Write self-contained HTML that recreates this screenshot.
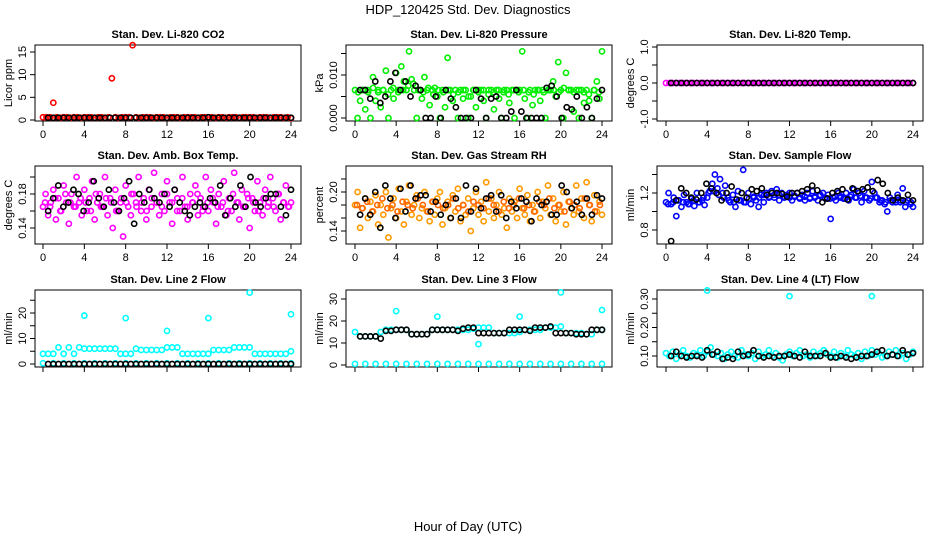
<!DOCTYPE html>
<html><head><meta charset="utf-8"><style>
html,body{margin:0;padding:0;background:#fff;}
svg text{font-family:"Liberation Sans",Arial,sans-serif;}
</style></head><body>
<svg id="chart" width="936" height="540" viewBox="0 0 936 540" xmlns="http://www.w3.org/2000/svg">
<rect width="936" height="540" fill="#fff"/>
<text x="468" y="14" font-size="13" text-anchor="middle">HDP_120425  Std. Dev. Diagnostics</text>
<text x="468" y="531" font-size="13" text-anchor="middle">Hour of Day (UTC)</text>
</svg>
<script>
// ---------- data ----------
const hourTicks = [0,4,8,12,16,20,24];
// CO2
const co2Red = [0.6,0.6,0.6,3.8,0.6,0.5,0.6,0.6,0.5,0.6,0.6,0.5,0.6,0.6,0.6,0.5,0.6,0.6,0.5,0.6,9.2,0.6,0.5,0.6,0.6,0.6,16.5,0.6,0.5,0.6,0.6,0.6,0.5,0.6,0.6,0.6,0.5,0.6,0.6,0.6,0.5,0.6,0.6,0.6,0.6,0.5,0.6,0.6,0.6,0.6,0.5,0.6,0.6,0.5,0.6,0.6,0.6,0.5,0.6,0.6,0.6,0.6,0.5,0.6,0.6,0.6,0.5,0.6,0.6,0.6,0.5,0.6,0.4];
const co2Black = [0.5,0.5,0.5,0.5,0.5,0.5,0.5,0.5,0.5,0.5,0.5,0.5,0.5,0.5,0.5,0.5,0.5,0.5,0.5,0.5,0.5,0.5,0.5,0.5,0.5,0.5,0.5,0.5,0.5,0.5,0.5,0.6,0.5,0.5,0.5,0.5,0.5,0.5,0.5,0.5,0.5,0.5,0.5,0.5,0.5,0.5,0.5,0.5];
// Pressure
const presGreen = [0.0065,0.0,0.004,0.0065,0.002,0.0065,0.0,0.0095,0.004,0.0065,0.0025,0.0065,0.011,0.0,0.0065,0.0045,0.0105,0.0065,0.012,0.0085,0.0065,0.0155,0.009,0.0065,0.0,0.0065,0.0045,0.0095,0.0065,0.003,0.0065,0.007,0.005,0.0,0.0065,0.0025,0.014,0.0065,0.004,0.0065,0.0,0.0065,0.0045,0.0065,0.0,0.005,0.0065,0.0025,0.0065,0.0065,0.004,0.0,0.0065,0.0065,0.002,0.0065,0.0045,0.0,0.0065,0.0065,0.0035,0.0065,0.0,0.0065,0.0065,0.0155,0.0045,0.0,0.0065,0.003,0.0065,0.0065,0.004,0.0065,0.0,0.0065,0.0065,0.0085,0.005,0.013,0.0065,0.0,0.0105,0.0065,0.0065,0.0015,0.0065,0.0,0.0065,0.0035,0.0065,0.004,0.0,0.0065,0.0085,0.0045,0.0155];
const presGreenCore = [0.006,0.0065,0.006,0.007,0.006,0.0065,0.0055,0.007,0.006,0.0065,0.0075,0.008,0.0065,0.006,0.007,0.0055,0.0065,0.006,0.0065,0.0055,0.006,0.0065,0.005,0.0065,0.006,0.0065,0.0055,0.006,0.0065,0.006,0.0055,0.0065,0.006,0.0065,0.006,0.0055,0.0065,0.006,0.0065,0.0065,0.006,0.007,0.0065,0.006,0.0065,0.006,0.0055,0.0065,0.006];
const presBlack = [0.0065,0.0065,0.0045,0.0085,0.0035,0.005,0.0085,0.0105,0.0065,0.0085,0.005,0.0075,0.0065,0.0,0.0,0.005,0.0,0.0065,0.0045,0.0025,0.0,0.0,0.0,0.0065,0.0045,0.0,0.0045,0.005,0.0,0.0,0.0015,0.0065,0.0015,0.0,0.0,0.0,0.0,0.007,0.0075,0.005,0.0,0.0025,0.002,0.005,0.0,0.0025,0.0,0.0045,0.0065];
// Li-820 temp
const tempMag = [0,0,0,0,0,0,0,0,0,0,0,0,0,0,0,0,0,0,0,0,0,0,0,0,0,0,0,0,0,0,0,0,0,0,0,0,0,0,0,0,0,0,0,0,0,0,0,0,0,0,0,0,0,0,0,0,0,0,0,0,0,0,0,0,0,0,0,0,0,0,0,0,0];
const tempBlack = [0,0,0,0,0,0,0,0,0,0,0,0,0,0,0,0,0,0,0,0,0,0,0,0,0,0,0,0,0,0,0,0,0,0,0,0,0,0,0,0,0,0,0,0,0,0,0,0];
// Amb box temp
const boxMag = [0.165,0.18,0.155,0.17,0.185,0.15,0.175,0.16,0.19,0.17,0.145,0.18,0.165,0.2,0.17,0.155,0.185,0.16,0.175,0.195,0.15,0.17,0.18,0.165,0.2,0.155,0.175,0.14,0.185,0.16,0.17,0.13,0.19,0.165,0.155,0.18,0.17,0.2,0.16,0.175,0.15,0.185,0.165,0.205,0.17,0.155,0.18,0.16,0.195,0.17,0.145,0.185,0.175,0.16,0.2,0.165,0.15,0.18,0.17,0.19,0.155,0.175,0.165,0.2,0.16,0.185,0.17,0.145,0.18,0.165,0.195,0.155,0.175,0.16,0.205,0.17,0.15,0.185,0.165,0.18,0.14,0.175,0.16,0.195,0.17,0.155,0.185,0.165,0.2,0.175,0.16,0.18,0.15,0.17,0.19,0.165,0.17];
const boxMagCore = [0.17,0.165,0.175,0.16,0.18,0.17,0.165,0.175,0.17,0.16,0.18,0.165,0.175,0.17,0.16,0.175,0.17,0.18,0.165,0.17,0.16,0.175,0.17,0.165,0.18,0.17,0.16,0.175,0.165,0.17,0.18,0.16,0.17,0.175,0.165,0.17,0.16,0.18,0.17,0.165,0.175,0.17,0.16,0.175,0.17,0.165,0.18,0.17,0.165];
const boxBlack = [0.16,0.175,0.19,0.165,0.17,0.185,0.18,0.16,0.17,0.195,0.175,0.165,0.185,0.17,0.16,0.175,0.195,0.145,0.18,0.17,0.185,0.175,0.17,0.18,0.165,0.185,0.17,0.16,0.155,0.165,0.17,0.165,0.175,0.17,0.19,0.155,0.175,0.165,0.19,0.165,0.2,0.17,0.165,0.175,0.18,0.18,0.165,0.155,0.185];
// Gas stream RH
const rhOrange = [0.18,0.2,0.145,0.175,0.19,0.16,0.185,0.17,0.195,0.15,0.18,0.165,0.2,0.13,0.175,0.19,0.16,0.205,0.17,0.15,0.185,0.21,0.165,0.18,0.195,0.16,0.175,0.2,0.17,0.155,0.185,0.165,0.19,0.2,0.15,0.175,0.185,0.16,0.195,0.17,0.205,0.155,0.18,0.165,0.19,0.14,0.175,0.2,0.165,0.185,0.155,0.215,0.17,0.19,0.16,0.18,0.2,0.165,0.175,0.145,0.19,0.17,0.185,0.16,0.205,0.175,0.165,0.195,0.155,0.18,0.17,0.2,0.16,0.185,0.175,0.21,0.165,0.19,0.155,0.18,0.17,0.2,0.15,0.185,0.175,0.165,0.21,0.17,0.19,0.16,0.215,0.18,0.155,0.195,0.17,0.185,0.165];
const rhOrangeCore = [0.18,0.175,0.185,0.17,0.18,0.19,0.175,0.18,0.17,0.185,0.18,0.175,0.19,0.18,0.17,0.185,0.18,0.175,0.18,0.19,0.175,0.18,0.17,0.185,0.18,0.175,0.19,0.18,0.17,0.185,0.175,0.18,0.19,0.175,0.18,0.17,0.185,0.18,0.19,0.175,0.18,0.17,0.185,0.18,0.175,0.19,0.18,0.17,0.18];
const rhBlack = [0.165,0.19,0.165,0.2,0.145,0.21,0.19,0.16,0.205,0.17,0.21,0.19,0.195,0.195,0.17,0.185,0.165,0.18,0.16,0.19,0.16,0.21,0.17,0.205,0.175,0.19,0.195,0.17,0.195,0.16,0.185,0.175,0.19,0.185,0.155,0.19,0.18,0.185,0.165,0.165,0.21,0.2,0.175,0.185,0.165,0.19,0.165,0.195,0.19];
// Sample flow
const flowBlue = [1.1,1.2,1.08,1.15,0.95,1.12,1.05,1.18,1.1,1.08,1.14,1.06,1.2,1.1,1.12,1.07,1.15,1.22,1.3,1.4,1.25,1.35,1.2,1.28,1.15,1.1,1.18,1.05,1.22,1.12,1.45,1.1,1.2,1.08,1.15,1.12,1.05,1.18,1.1,1.2,1.15,1.22,1.18,1.24,1.12,1.2,1.15,1.18,1.2,1.12,1.16,1.2,1.14,1.18,1.12,1.2,1.15,1.22,1.16,1.12,1.18,1.2,1.14,1.18,0.92,1.15,1.12,1.2,1.16,1.14,1.2,1.12,1.18,1.24,1.15,1.2,1.1,1.22,1.15,1.12,1.32,1.2,1.15,1.1,1.12,1.08,1.0,1.15,1.1,1.12,1.18,1.1,1.25,1.05,1.12,1.08,1.05];
const flowBlueCore = [1.08,1.1,1.12,1.1,1.08,1.12,1.1,1.15,1.2,1.22,1.18,1.15,1.12,1.1,1.12,1.1,1.14,1.16,1.15,1.18,1.16,1.15,1.18,1.16,1.15,1.17,1.15,1.16,1.14,1.15,1.17,1.15,1.14,1.16,1.15,1.14,1.16,1.15,1.17,1.15,1.14,1.15,1.12,1.1,1.12,1.1,1.12,1.1,1.1];
const flowBlack = [0.68,1.12,1.25,1.2,1.15,1.13,1.2,1.3,1.25,1.2,1.12,1.2,1.27,1.13,1.2,1.15,1.24,1.22,1.25,1.18,1.2,1.2,1.19,1.16,1.2,1.2,1.22,1.24,1.28,1.23,1.1,1.14,1.2,1.22,1.24,1.13,1.25,1.22,1.24,1.26,1.22,1.34,1.3,1.2,1.12,1.15,1.12,1.18,1.12];
// Line 2 flow
const line2Cyan = [4,4,4,6.5,4,6.5,4,6.5,6,6,6,6,6,6,6,4,4,4,6,5.5,5.5,5.5,5.5,5.5,6.5,6.5,6.5,4,4,4,4,4,4,5.5,5.5,5.5,5.5,6.5,6.5,6.5,6.5,4,4,4,4,4,4,4,5];
const line2CyanZero = [0.3,0.3,0.3,0.3,0.3,0.3,0.3,0.3,0.3,0.3,0.3,0.3,0.3,0.3,0.3,0.3,0.3,0.3,0.3,0.3,0.3,0.3,0.3,0.3,0.3];
const line2OutlierHours = [4,8,12,16,20,24];
const line2Outliers = [19,18,13,18,28,19.5];
const line2Black = [0,0,0,0,0,0,0,0,0,0,0,0,0,0,0,0,0,0,0,0,0,0,0,0,0,0,0,0,0,0,0,0,0,0,0,0,0,0,0,0,0,0,0,0,0,0,0,0];
// Line 3 flow
const line3Cyan = [15,13,13,13,13,15,16,16,16,16,16,14,14,14,14,16,16,16,16,16,16,16,16,16.5,17,17,17,14.5,14.5,14.5,14.5,14.5,15,16,16,16,16,17,17,17,17.5,14.5,14.5,14.5,14.5,14,14,16,16];
const line3CyanZero = [0.5,0.5,0.5,0.5,0.5,0.5,0.5,0.5,0.5,0.5,0.5,0.5,0.5,0.5,0.5,0.5,0.5,0.5,0.5,0.5,0.5,0.5,0.5,0.5,0.5];
const line3OutlierHours = [4,8,12,16,20,24];
const line3Outliers = [24.5,22,9.5,22,33,25];
const line3Black = [13,13,13,13,12,15.5,15.5,16,16,16,14,14,14,14,16,16,16,16,16,15.5,16.5,17,17,14.5,14.5,14.5,14.5,14.5,14.5,16,16,16,16,15.5,17,17,17,17.5,14.5,14.5,14.5,14.5,14,14,14,16,16,16];
// Line 4 flow
const line4Cyan = [0.11,0.1,0.115,0.09,0.105,0.12,0.1,0.095,0.11,0.105,0.12,0.1,0.115,0.13,0.105,0.1,0.11,0.09,0.105,0.115,0.1,0.095,0.12,0.105,0.1,0.11,0.09,0.115,0.1,0.105,0.12,0.1,0.11,0.095,0.085,0.105,0.115,0.1,0.11,0.12,0.1,0.105,0.095,0.115,0.1,0.11,0.12,0.105,0.1,0.115,0.095,0.11,0.1,0.12,0.105,0.1,0.11,0.09,0.115,0.1,0.12,0.105,0.11,0.095,0.1,0.115,0.105,0.12,0.1,0.11,0.09,0.105,0.115];
const line4OutlierHours = [4,12,20];
const line4Outliers = [0.33,0.31,0.31];
const line4Black = [0.1,0.115,0.1,0.095,0.1,0.1,0.095,0.12,0.105,0.115,0.09,0.095,0.09,0.115,0.1,0.105,0.12,0.1,0.095,0.1,0.095,0.1,0.1,0.105,0.1,0.095,0.115,0.1,0.1,0.1,0.11,0.095,0.095,0.1,0.095,0.09,0.095,0.1,0.1,0.105,0.115,0.12,0.1,0.105,0.1,0.12,0.105,0.11];

// ---------- drawing ----------
const svg = document.getElementById('chart');
const NS = 'http://www.w3.org/2000/svg';
function mk(tag, attrs, parent){
  const e = document.createElementNS(NS, tag);
  for (const k in attrs) e.setAttribute(k, attrs[k]);
  (parent||svg).appendChild(e);
  return e;
}
const cols = [{bx0:35,bx1:301,h0:43,h24:291},{bx0:346,bx1:612,h0:355,h24:602},{bx0:657,bx1:923,h0:666,h24:913}];
const rows = [{by0:45,by1:121,lab:true},{by0:166,by1:244,lab:true},{by0:290,by1:367,lab:false}];

function panel(name, title, col, row, ylab, yv1, yp1, yv2, yp2, yTicks, yLabels){
  const c = cols[col], r = rows[row];
  const g = mk('g', {});
  
  
  const xs = h => c.h0 + (h/24)*(c.h24 - c.h0);
  const ys = v => yp1 + (v - yv1)*(yp2 - yp1)/(yv2 - yv1);
  const box = mk('rect', {x:c.bx0, y:r.by0, width:c.bx1-c.bx0, height:r.by1-r.by0, fill:'none', stroke:'#000', 'stroke-width':1}, g);
  
  
  const t = mk('text', {x:(c.bx0+c.bx1)/2, y:r.by0-7, 'font-size':11, 'font-weight':'bold', 'text-anchor':'middle'}, g);
  t.textContent = title;
  
  
  // x axis
  const yb = r.by1;
  mk('line', {x1:xs(0), x2:xs(24), y1:yb, y2:yb, stroke:'#000'}, g);
  hourTicks.forEach(h => {
    mk('line', {x1:xs(h), x2:xs(h), y1:yb, y2:yb+5, stroke:'#000'}, g);
    if (r.lab) {
      const tl = mk('text', {x:xs(h), y:yb+17, 'font-size':11, 'text-anchor':'middle'}, g);
      tl.textContent = h;
      
      
    }
  });
  // y axis
  const xa = c.bx0;
  mk('line', {x1:xa, x2:xa, y1:ys(yTicks[0]), y2:ys(yTicks[yTicks.length-1]), stroke:'#000'}, g);
  yTicks.forEach((v,i) => {
    const py = ys(v);
    mk('line', {x1:xa-5, x2:xa, y1:py, y2:py, stroke:'#000'}, g);
    if (yLabels[i] !== '') {
      const tl = mk('text', {x:xa-9, y:py, 'font-size':11, 'text-anchor':'middle', transform:`rotate(-90 ${xa-9} ${py})`}, g);
      tl.textContent = yLabels[i];
      
      
    }
  });
  const yl = mk('text', {x:c.bx0-23, y:(r.by0+r.by1)/2, 'font-size':11, 'text-anchor':'middle', transform:`rotate(-90 ${c.bx0-23} ${(r.by0+r.by1)/2})`}, g);
  yl.textContent = ylab;
  
  
  return {g, xs, ys};
}
function series(p, name, vals, start, end, color){
  const n = vals.length;
  vals.forEach((v,i) => {
    const h = n > 1 ? start + i*(end-start)/(n-1) : start;
    const pt = mk('circle', {cx:p.xs(h), cy:p.ys(v), r:2.6, fill:'none', stroke:color, 'stroke-width':1.6}, p.g);
    
    
  });
}
function seriesXY(p, name, hours, vals, color){
  vals.forEach((v,i) => {
    const pt = mk('circle', {cx:p.xs(hours[i]), cy:p.ys(v), r:2.6, fill:'none', stroke:color, 'stroke-width':1.6}, p.g);
    
    
  });
}

let p;
p = panel('co2','Stan. Dev. Li-820 CO2',0,0,'Licor ppm',0,120,15,52,[0,5,10,15],['0','5','10','15']);
series(p,'co2-red',co2Red,0,24,'#ff0000');
series(p,'co2-black',co2Black,0.5,24,'#000');

p = panel('pressure','Stan. Dev. Li-820 Pressure',1,0,'kPa',0,118,0.01,75,[0,0.005,0.01,0.015],['0.000','','0.010','']);
series(p,'pressure-green',presGreen,0,24,'#00ee00');
series(p,'pressure-green-core',presGreenCore,0.3,23.7,'#00ee00');
series(p,'pressure-black',presBlack,0.5,24,'#000');

p = panel('li820-temp','Stan. Dev. Li-820 Temp.',2,0,'degrees C',-1,119,1,47,[-1,-0.5,0,0.5,1],['-1.0','','0.0','','1.0']);
series(p,'temp-magenta',tempMag,0,24,'#ff00ff');
series(p,'temp-black',tempBlack,0.5,24,'#000');

p = panel('box-temp','Stan. Dev. Amb. Box Temp.',0,1,'degrees C',0.14,228,0.18,194,[0.14,0.16,0.18,0.2],['0.14','','0.18','']);
series(p,'box-temp-magenta',boxMag,0,24,'#ff00ff');
series(p,'box-temp-magenta-core',boxMagCore,0.2,23.8,'#ff00ff');
series(p,'box-temp-black',boxBlack,0.5,24,'#000');

p = panel('rh','Stan. Dev. Gas Stream RH',1,1,'percent',0.14,231,0.2,192,[0.14,0.16,0.18,0.2,0.22],['0.14','','','0.20','']);
series(p,'rh-orange',rhOrange,0,24,'#ff9900');
series(p,'rh-orange-core',rhOrangeCore,0.2,23.8,'#ff6600');
series(p,'rh-black',rhBlack,0.5,24,'#000');

p = panel('sample-flow','Stan. Dev. Sample Flow',2,1,'ml/min',0.8,230,1.2,193,[0.8,1.0,1.2,1.4],['0.8','','1.2','']);
series(p,'sample-flow-blue',flowBlue,0,24,'#0000ff');
series(p,'sample-flow-blue-core',flowBlueCore,0.2,23.8,'#0000ff');
series(p,'sample-flow-black',flowBlack,0.5,24,'#000');

p = panel('line2','Stan. Dev. Line 2 Flow',0,2,'ml/min',0,364,20,313,[0,5,10,15,20,25],['0','','10','','20','']);
series(p,'line2-cyan',line2Cyan,0,24,'#00ffff');
series(p,'line2-cyan-zero',line2CyanZero,0,24,'#00ffff');
seriesXY(p,'line2-cyan-outlier',line2OutlierHours,line2Outliers,'#00ffff');
series(p,'line2-black',line2Black,0.5,24,'#000');

p = panel('line3','Stan. Dev. Line 3 Flow',1,2,'ml/min',0,365,30,299,[0,10,20,30],['0','10','20','30']);
series(p,'line3-cyan',line3Cyan,0,24,'#00ffff');
series(p,'line3-cyan-zero',line3CyanZero,0,24,'#00ffff');
seriesXY(p,'line3-cyan-outlier',line3OutlierHours,line3Outliers,'#00ffff');
series(p,'line3-black',line3Black,0.5,24,'#000');

p = panel('line4','Stan. Dev. Line 4 (LT) Flow',2,2,'ml/min',0.1,356,0.3,299,[0.1,0.15,0.2,0.25,0.3],['0.10','','0.20','','0.30']);
series(p,'line4-cyan',line4Cyan,0,24,'#00ffff');
seriesXY(p,'line4-cyan-outlier',line4OutlierHours,line4Outliers,'#00ffff');
series(p,'line4-black',line4Black,0.5,24,'#000');
</script>
</body></html>
